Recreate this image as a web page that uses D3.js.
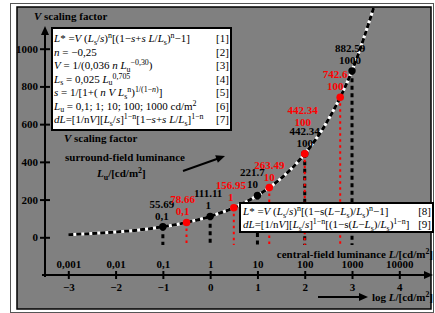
<!DOCTYPE html>
<html>
<head>
<meta charset="utf-8">
<style>
    html, body { margin: 0; padding: 0; background: #fff; }
    svg { display: block; }
    text { font-family: "Liberation Serif", "Times New Roman", serif; }
</style>
<script src="https://d3js.org/d3.v7.min.js"></script>
</head>
<body>
<svg width="435" height="313"></svg>
<script>
    // axis ticks
    var xTicks = [-3, -2, -1, 0, 1, 2, 3, 4];
    var xTickLum = ["0,001", "0,01", "0,1", "1", "10", "100", "1000", "10000"];
    var yTicks = [0, 200, 400, 600, 800, 1000];

    // curve (log L, V)
    var curveLogL = [-3, -2.5, -2, -1.5, -1, -0.5, 0, 0.5, 1, 1.5, 2, 2.5, 3, 3.5];
    var curveV = [14, 20, 28, 39, 55.7, 78.7, 111, 157, 222, 313, 442, 624, 883, 1250];

    // black points
    var blackLogL = [-1, 0, 1, 2, 3];
    var blackV = [55.69, 111.11, 221.7, 442.34, 882.59];
    var blackLu = ["0,1", "1", "10", "100", "1000"];

    // red points
    var redLogL = [-0.5, 0.5, 1.25, 2, 2.75];
    var redV = [78.66, 156.95, 263.49, 442.34, 742.6];
    var redLu = ["0,1", "1", "10", "100", "100"];

    // label nudges (layout only)
    var blackShift = [[-1, 0], [-2, 0], [-5, 0], [0, 0], [-2, 0]];
    var redShift = [[-4, 0], [-3, 0], [0, 0], [-2, -21], [-5, 0]];

    var svg = d3.select("svg");
    var RED = "#ff0000";
    var SERIF = '"Liberation Serif", "Times New Roman", serif';

    var x = d3.scaleLinear().domain([-3, 4]).range([68.3, 399.3]);
    var y = d3.scaleLinear().domain([0, 1000]).range([237.3, 48.7]);

    // frames
    svg.append("rect").attr("x", 10.5).attr("y", 3.5).attr("width", 423).attr("height", 309)
        .attr("fill", "none").attr("stroke", "#555").attr("stroke-width", 1);
    svg.append("rect").attr("x", 17).attr("y", 7).attr("width", 414).attr("height", 302)
        .attr("fill", "#808080").attr("stroke", "#000").attr("stroke-width", 1.5);

    svg.append("defs").append("clipPath").attr("id", "plotclip")
        .append("rect").attr("x", 18).attr("y", 8).attr("width", 412).attr("height", 300);

    // rich text helper: flags i = italic, ^ = sup, _ = sub
    function rich(sel, parts, size) {
        var shift = 0;
        parts.forEach(function(p) {
            var f = p[1] || "";
            var target = f.indexOf("^") >= 0 ? -4 : (f.indexOf("_") >= 0 ? 2.5 : 0);
            var t = sel.append("tspan").text(p[0]).attr("dy", target - shift);
            shift = target;
            if (f.indexOf("i") >= 0) t.style("font-style", "italic");
            if (target !== 0) t.style("font-size", (size * 0.72) + "px");
        });
    }

    function arrow(x1, y1, x2, y2, len, half) {
        var a = Math.atan2(y2 - y1, x2 - x1);
        var bx = x2 - len * Math.cos(a), by = y2 - len * Math.sin(a);
        svg.append("line").attr("x1", x1).attr("y1", y1).attr("x2", bx + Math.cos(a)).attr("y2", by + Math.sin(a))
            .attr("stroke", "#000").attr("stroke-width", 2);
        var px = -Math.sin(a) * half, py = Math.cos(a) * half;
        svg.append("path")
            .attr("d", "M" + x2 + "," + y2 + "L" + (bx + px) + "," + (by + py) + "L" + (bx - px) + "," + (by - py) + "Z")
            .attr("fill", "#000");
    }

    // axes
    arrow(45, 277, 45, 26, 9, 4);
    arrow(42, 275, 433, 275, 9, 4);

    var gx = svg.append("g").attr("transform", "translate(0,275)")
        .call(d3.axisBottom(x).tickValues(xTicks).tickSize(4)
            .tickFormat(function(d) { return d < 0 ? "\u2212" + (-d) : d; }));
    gx.select(".domain").remove();
    gx.attr("font-size", 11).attr("font-weight", "bold").attr("font-family", SERIF);
    gx.selectAll(".tick line").attr("y1", -4).attr("stroke", "#000").attr("stroke-width", 2);
    gx.selectAll(".tick text").attr("y", 16).attr("dy", null).attr("fill", "#000");
    gx.selectAll(".tick").append("text")
        .attr("y", -7).attr("fill", "#000")
        .text(function(d, i) { return xTickLum[i]; });

    var gy = svg.append("g").attr("transform", "translate(45,0)")
        .call(d3.axisLeft(y).tickValues(yTicks).tickSize(5).tickPadding(2).tickFormat(d3.format("d")));
    gy.select(".domain").remove();
    gy.attr("font-size", 11).attr("font-weight", "bold").attr("font-family", SERIF);
    gy.selectAll(".tick line").attr("x1", 5).attr("stroke", "#000").attr("stroke-width", 2);
    gy.selectAll(".tick text").attr("x", -7).attr("fill", "#000");

    // axis titles
    var t = svg.append("text").attr("x", 34).attr("y", 20).attr("font-size", 11).attr("font-weight", "bold");
    rich(t, [["V", "i"], ["  scaling factor", ""]], 11);

    t = svg.append("text").attr("x", 433).attr("y", 258).attr("text-anchor", "end")
        .attr("font-size", 11).attr("font-weight", "bold");
    rich(t, [["central-field luminance ", ""], ["L", "i"], ["/[cd/m", ""], ["2", "^"], ["]", ""]], 11);

    arrow(318, 297, 368, 297, 9, 4);
    t = svg.append("text").attr("x", 433).attr("y", 301).attr("text-anchor", "end")
        .attr("font-size", 11).attr("font-weight", "bold");
    rich(t, [["log ", ""], ["L", "i"], ["/[cd/m", ""], ["2", "^"], ["]", ""]], 11);

    // surround-field label
    t = svg.append("text").attr("x", 64).attr("y", 142).attr("font-size", 11).attr("font-weight", "bold");
    rich(t, [["V", "i"], ["  scaling factor", ""]], 11);
    svg.append("text").attr("x", 65).attr("y", 161).attr("font-size", 11).attr("font-weight", "bold")
        .text("surround-field luminance");
    t = svg.append("text").attr("x", 97).attr("y", 177).attr("font-size", 11).attr("font-weight", "bold");
    rich(t, [["L", "i"], ["u", "_"], ["/[cd/m", ""], ["2", "^"], ["]", ""]], 11);
    arrow(183, 171, 225, 156, 9, 4);

    // formula box 1
    svg.append("rect").attr("x", 52).attr("y", 28).attr("width", 179).attr("height", 102)
        .attr("fill", "#fff").attr("stroke", "#000").attr("stroke-width", 2);
    var formulas = [
        [["L", "i"], ["* =", ""], ["V", "i"], [" (", ""], ["L", "i"], ["s", "_"], ["/", ""], ["s", "i"], [")", ""], ["n", "^"],
         ["[(1\u2212", ""], ["s", "i"], ["+", ""], ["s", "i"], [" ", ""], ["L", "i"], ["/", ""], ["L", "i"], ["s", "_"], [")", ""], ["n", "^"], ["\u22121]", ""]],
        [["n", "i"], [" = \u22120,25", ""]],
        [["V", "i"], [" = 1/(0,036 ", ""], ["n", "i"], [" ", ""], ["L", "i"], ["u", "_"], ["\u22120,30", "^"], [")", ""]],
        [["L", "i"], ["s", "_"], [" = 0,025 ", ""], ["L", "i"], ["u", "_"], ["0,705", "^"]],
        [["s", "i"], [" = 1/[1+( ", ""], ["n", "i"], [" ", ""], ["V", "i"], [" ", ""], ["L", "i"], ["s", "_"], ["n", "^"], [")", ""],
         ["1/(1\u2212", "^"], ["n", "^i"], [")", "^"], ["]", ""]],
        [["L", "i"], ["u", "_"], [" = 0,1; 1; 10; 100; 1000 cd/m", ""], ["2", "^"]],
        [["dL", "i"], ["=[1/n", ""], ["V", "i"], ["][", ""], ["L", "i"], ["s", "_"], ["/", ""], ["s", "i"], ["]", ""], ["1\u2212n", "^"],
         ["[1\u2212", ""], ["s", "i"], ["+", ""], ["s", "i"], [" ", ""], ["L", "i"], ["/", ""], ["L", "i"], ["s", "_"], ["]", ""], ["1\u2212n", "^"]]
    ];
    formulas.forEach(function(parts, i) {
        var tt = svg.append("text").attr("x", 54).attr("y", 42 + i * 13.5).attr("font-size", 11);
        rich(tt, parts, 11);
        svg.append("text").attr("x", 216).attr("y", 42 + i * 13.5).attr("font-size", 11).text("[" + (i + 1) + "]");
    });

    // curve
    var pts = curveLogL.map(function(d, i) { return [d, curveV[i]]; });
    var line = d3.line()
        .x(function(d) { return x(d[0]); })
        .y(function(d) { return y(d[1]); })
        .curve(d3.curveMonotoneX);
    var gc = svg.append("g").attr("clip-path", "url(#plotclip)");
    gc.append("path").datum(pts).attr("d", line)
        .attr("fill", "none").attr("stroke", "#fff").attr("stroke-width", 3);
    gc.append("path").datum(pts).attr("d", line)
        .attr("fill", "none").attr("stroke", "#000").attr("stroke-width", 3).attr("stroke-dasharray", "5,3");

    // vertical drop lines
    svg.append("g").selectAll("line").data(blackLogL).enter().append("line")
        .attr("x1", function(d) { return x(d); }).attr("x2", function(d) { return x(d); })
        .attr("y1", function(d, i) { return y(blackV[i]); }).attr("y2", 245)
        .attr("stroke", "#000").attr("stroke-width", 3).attr("stroke-dasharray", "4,3.5");
    svg.append("g").selectAll("line").data(redLogL).enter().append("line")
        .attr("x1", function(d) { return x(d); }).attr("x2", function(d) { return x(d); })
        .attr("y1", function(d, i) { return y(redV[i]); }).attr("y2", 245)
        .attr("stroke", RED).attr("stroke-width", 2).attr("stroke-dasharray", "2.5,3.5");

    // formula box 2
    svg.append("rect").attr("x", 240).attr("y", 203).attr("width", 193).attr("height", 29)
        .attr("fill", "#fff").attr("stroke", "#000").attr("stroke-width", 2);
    var formulas2 = [
        [["L", "i"], ["* =", ""], ["V", "i"], [" (", ""], ["L", "i"], ["s", "_"], ["/", ""], ["s", "i"], [")", ""], ["n", "^"],
         ["[(1\u2212s(", ""], ["L", "i"], ["\u2212", ""], ["L", "i"], ["s", "_"], [")/", ""], ["L", "i"], ["s", "_"], [")", ""], ["n", "^"], ["\u22121]", ""]],
        [["dL", "i"], ["=[1/n", ""], ["V", "i"], ["][", ""], ["L", "i"], ["s", "_"], ["/", ""], ["s", "i"], ["]", ""], ["1\u2212n", "^"],
         ["[(1\u2212s(", ""], ["L", "i"], ["\u2212", ""], ["L", "i"], ["s", "_"], [")/", ""], ["L", "i"], ["s", "_"], [")", ""], ["1\u2212n", "^"], ["]", ""]]
    ];
    formulas2.forEach(function(parts, i) {
        var tt = svg.append("text").attr("x", 243).attr("y", 215 + i * 13).attr("font-size", 11);
        rich(tt, parts, 11);
        svg.append("text").attr("x", 431).attr("y", 215 + i * 13).attr("text-anchor", "end")
            .attr("font-size", 11).text("[" + (i + 8) + "]");
    });

    // dots
    svg.append("g").selectAll("circle").data(blackLogL).enter().append("circle")
        .attr("cx", function(d) { return x(d); })
        .attr("cy", function(d, i) { return y(blackV[i]); })
        .attr("r", 3.7).attr("fill", "#000");
    svg.append("g").selectAll("circle").data(redLogL).enter().append("circle")
        .attr("cx", function(d) { return x(d); })
        .attr("cy", function(d, i) { return y(redV[i]); })
        .attr("r", 3.8).attr("fill", RED);

    // point labels
    function labels(logL, vals, lu, shift, color) {
        var g = svg.append("g").attr("font-size", 11).attr("font-weight", "bold")
            .attr("text-anchor", "middle").attr("fill", color);
        logL.forEach(function(d, i) {
            var px = x(d) + shift[i][0], py = y(vals[i]) + shift[i][1];
            g.append("text").attr("x", px).attr("y", py - 19).text(String(vals[i]));
            g.append("text").attr("x", px).attr("y", py - 7).text(lu[i]);
        });
    }
    labels(blackLogL, blackV, blackLu, blackShift, "#000");
    labels(redLogL, redV, redLu, redShift, RED);
</script>
</body>
</html>
